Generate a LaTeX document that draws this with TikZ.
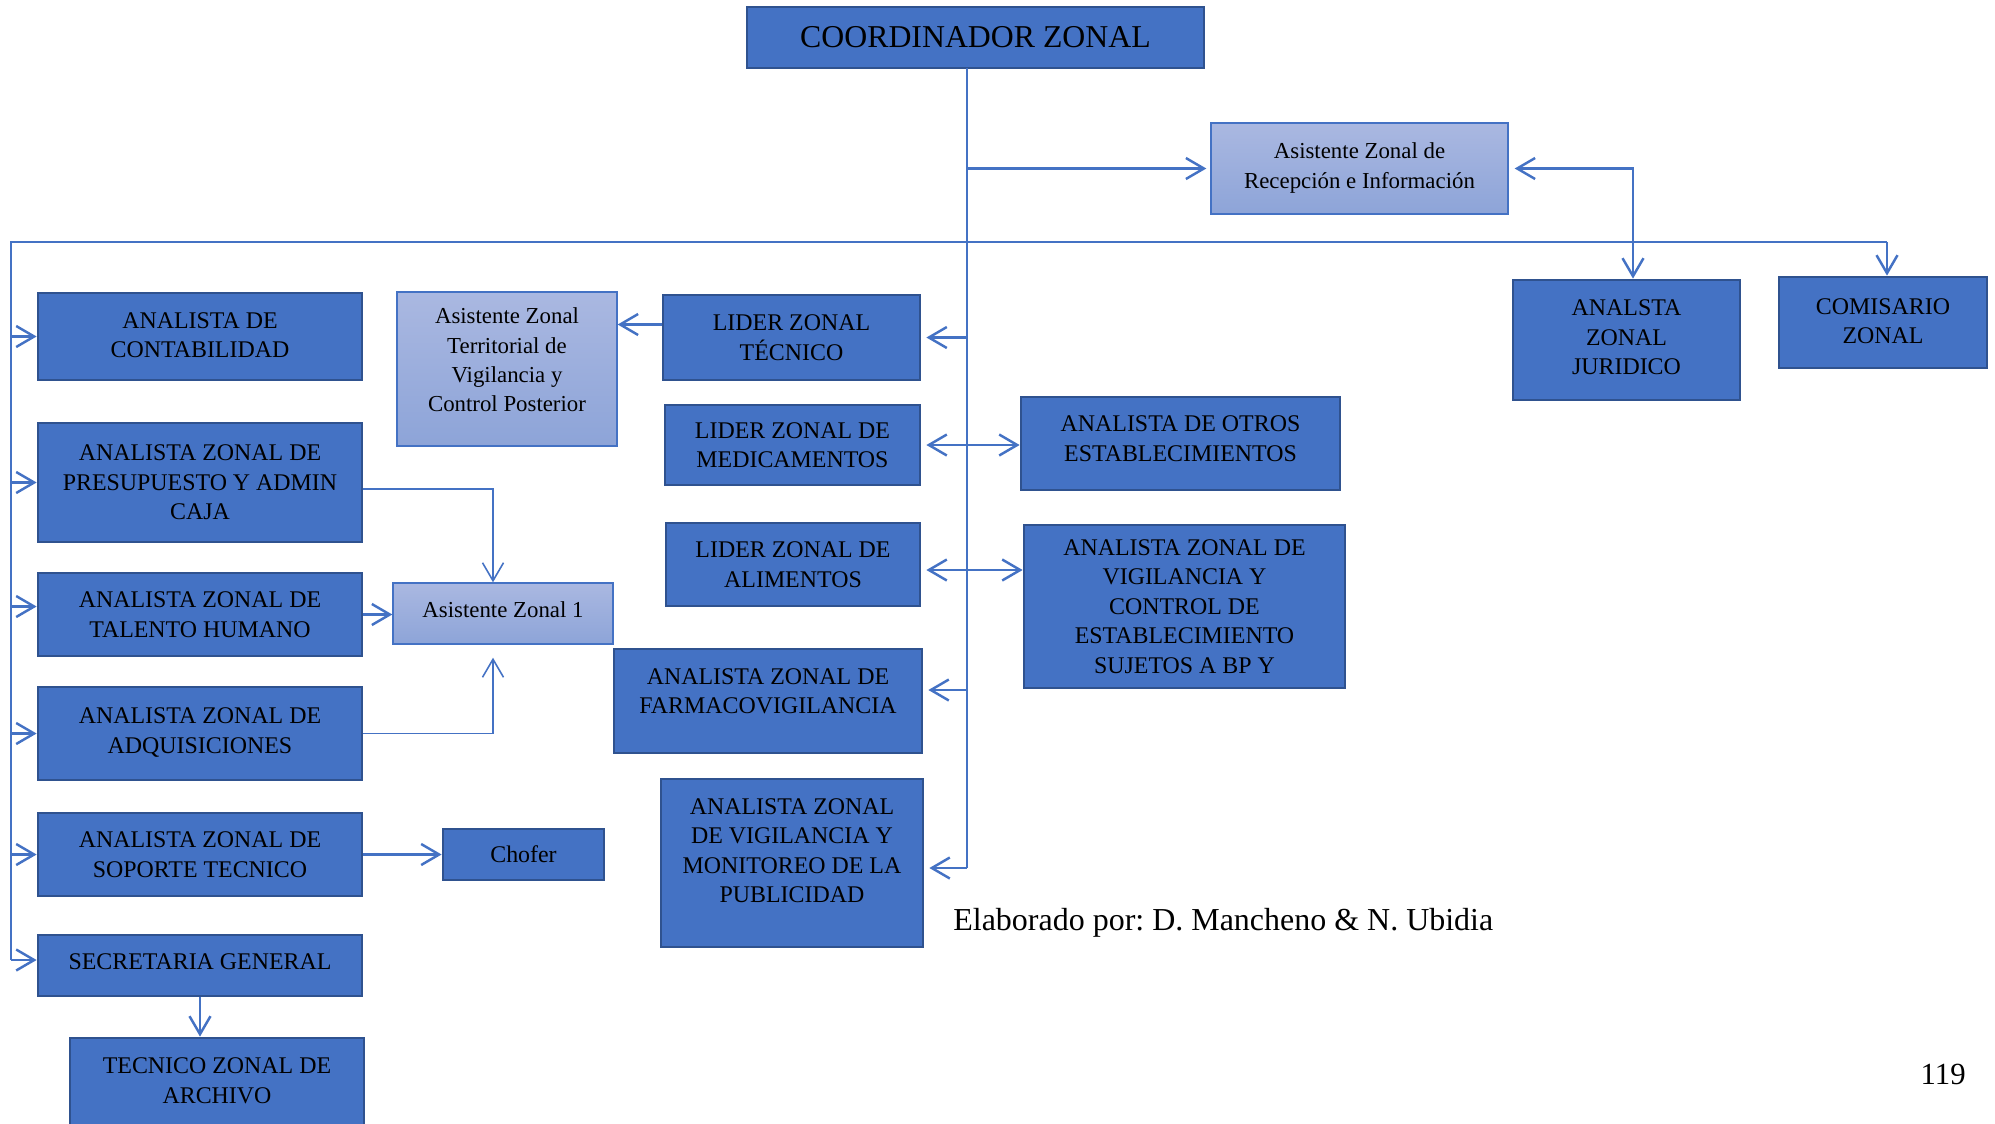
\documentclass[tikz,border=0pt]{standalone}
\usepackage{fontspec}
\setmainfont{Liberation Serif}
\usepackage{tikz}
\usetikzlibrary{arrows.meta,positioning,calc}
\definecolor{boxfill}{RGB}{68,114,196}
\definecolor{boxline}{RGB}{47,82,143}
\definecolor{linecol}{RGB}{68,114,196}
\definecolor{lighttop}{RGB}{170,184,225}
\definecolor{lightbot}{RGB}{141,164,216}
\frenchspacing

\begin{document}
\begin{tikzpicture}[x = 0.02cm, y = -0.02cm,
	box/.style = {draw = boxline, fill = boxfill, line width = 1.6pt, inner sep = 1pt, align = center, font = \fontsize{13.6}{16.8}\selectfont},
	lightbox/.style = {draw = linecol, line width = 0.8pt, top color = lighttop, bottom color = lightbot, inner sep = 1pt, align = center, font = \fontsize{13}{16.7}\selectfont},
	thinline/.style = {draw = linecol, line width = 0.85pt},
	arr/.style = {draw = linecol, line width = 1.4pt, -{Straight Barb[length = 3.6mm, width = 4.2mm]}},
	arrthin/.style = {draw = linecol, line width = 0.9pt, -{Straight Barb[length = 3.6mm, width = 4.2mm]}},
	arrboth/.style = {draw = linecol, line width = 1.4pt, {Straight Barb[length = 3.6mm, width = 4.2mm]}-{Straight Barb[length = 3.6mm, width = 4.2mm]}}]
		\useasboundingbox (0,0) rectangle (1995,1123);
		\node [box, minimum width = 9.14cm, minimum height = 1.22cm, font = \fontsize{18.1}{21}\selectfont](coord) at (975.5,37.5) {COORDINADOR ZONAL};
		\node [lightbox, minimum width = 5.94cm, minimum height = 1.82cm, text depth = 0.12cm](recep) at (1359.5,168.5) {Asistente Zonal de\\Recepción e Información};
		\node [box, minimum width = 4.54cm, minimum height = 2.4cm, text depth = 0.1cm](juridico) at (1626.5,340) {ANALSTA\\ZONAL\\JURIDICO};
		\node [box, minimum width = 4.16cm, minimum height = 1.82cm, text depth = 0.06cm](comisario) at (1883,322.5) {COMISARIO\\ZONAL};
		\node [box, minimum width = 6.48cm, minimum height = 1.74cm, text depth = 0.06cm](contab) at (200,336.5) {ANALISTA DE\\CONTABILIDAD};
		\node [box, minimum width = 6.48cm, minimum height = 2.38cm](presup) at (200,482.5) {ANALISTA ZONAL DE\\PRESUPUESTO Y ADMIN\\CAJA};
		\node [box, minimum width = 6.48cm, minimum height = 1.66cm](talento) at (200,614.5) {ANALISTA ZONAL DE\\TALENTO HUMANO};
		\node [box, minimum width = 6.48cm, minimum height = 1.86cm, text depth = 0.12cm](adqui) at (200,733.5) {ANALISTA ZONAL DE\\ADQUISICIONES};
		\node [box, minimum width = 6.48cm, minimum height = 1.66cm](soporte) at (200,854.5) {ANALISTA ZONAL DE\\SOPORTE TECNICO};
		\node [box, minimum width = 6.48cm, minimum height = 1.22cm, text depth = 0.14cm](secret) at (200,965.5) {SECRETARIA GENERAL};
		\node [box, minimum width = 5.88cm, minimum height = 1.84cm, text depth = 0.14cm](archivo) at (217,1084) {TECNICO ZONAL DE\\ARCHIVO};
		\node [lightbox, minimum width = 4.4cm, minimum height = 3.08cm, text depth = 0.36cm](territorial) at (507,369) {Asistente Zonal\\Territorial de\\Vigilancia y\\Control Posterior};
		\node [lightbox, minimum width = 4.4cm, minimum height = 1.22cm, text depth = 0.16cm](asist1) at (503,613.5) {Asistente Zonal 1};
		\node [box, minimum width = 3.22cm, minimum height = 1.02cm](chofer) at (523.5,854.5) {Chofer};
		\node [box, minimum width = 5.14cm, minimum height = 1.7cm](tecnico) at (791.5,337.5) {LIDER ZONAL\\TÉCNICO};
		\node [box, minimum width = 5.1cm, minimum height = 1.6cm](medic) at (792.5,445) {LIDER ZONAL DE\\MEDICAMENTOS};
		\node [box, minimum width = 5.08cm, minimum height = 1.66cm](alimentos) at (793,564.5) {LIDER ZONAL DE\\ALIMENTOS};
		\node [box, minimum width = 6.16cm, minimum height = 2.08cm, text depth = 0.4cm](farmaco) at (768,701) {ANALISTA ZONAL DE\\FARMACOVIGILANCIA};
		\node [box, minimum width = 5.24cm, minimum height = 3.36cm, text depth = 0.5cm](monitoreo) at (792,863) {ANALISTA ZONAL\\DE VIGILANCIA Y\\MONITOREO DE LA\\PUBLICIDAD};
		\node [box, minimum width = 6.38cm, minimum height = 1.86cm, text depth = 0.2cm](otros) at (1180.5,443.5) {ANALISTA DE OTROS\\ESTABLECIMIENTOS};
		\node [box, minimum width = 6.42cm, minimum height = 3.26cm](vigcontrol) at (1184.5,606.5) {ANALISTA ZONAL DE\\VIGILANCIA Y\\CONTROL DE\\ESTABLECIMIENTO\\SUJETOS A BP Y};
		\node [anchor = base west, inner sep = 0pt, font = \fontsize{18.2}{21}\selectfont](autores) at (953,930) {Elaborado por: D. Mancheno \& N. Ubidia};
		\node [anchor = base east, inner sep = 0pt, font = \fontsize{17.5}{21}\selectfont](pagina) at (1966,1084) {119};
		\coordinate (trunktop) at (967,68);
		\coordinate (trunkbot) at (967,868);
		\coordinate (busl) at (11,242);
		\coordinate (busr) at (1887,242);
		\coordinate (busbot) at (11,960);
		\draw [thinline] (trunktop) -- (trunkbot);
		\draw [thinline] (busbot) -- (busl) -- (busr);
		\draw [arr] (busr) -- (busr |- comisario.north);
		\draw [arr, shorten > = 0.08cm] (trunktop |- recep.west) -- (recep.west);
		\draw [arrboth, shorten < = 0.12cm] (recep.east) -| ([xshift = 0.13cm]juridico.north);
		\draw [arr] (busl |- contab.west) -- (contab.west);
		\draw [arr] (busl |- presup.west) -- (presup.west);
		\draw [arr] ([yshift = 0.16cm]talento.west -| busl) -- ([yshift = 0.16cm]talento.west);
		\draw [arr] (busl |- adqui.west) -- (adqui.west);
		\draw [arr] (busl |- soporte.west) -- (soporte.west);
		\draw [arr] (busbot) -- (busbot -| secret.west);
		\draw [arr] (secret.south) -- (secret.south |- archivo.north);
		\draw [arr] (talento.east) -- (talento.east -| asist1.west);
		\draw [arr] (soporte.east) -- (chofer.west);
		\draw [arrthin] ([yshift = -0.13cm]presup.east) -| ([xshift = -0.2cm]asist1.north);
		\draw [arrthin, shorten > = 0.26cm] (adqui.east) -| ([xshift = -0.2cm]asist1.south);
		\draw [arr] ([yshift = 0.26cm]tecnico.west) -- ([yshift = 0.26cm]tecnico.west -| territorial.east);
		\draw [arr, shorten > = 0.1cm] (trunktop |- tecnico.east) -- (tecnico.east);
		\draw [arrboth, shorten < = 0.1cm] (medic.east) -- (medic.east -| otros.west);
		\draw [arrboth, shorten < = 0.1cm] ([yshift = -0.11cm]alimentos.east) -- ([yshift = -0.11cm]alimentos.east -| vigcontrol.west);
		\draw [arr, shorten > = 0.1cm] ([yshift = 0.22cm]farmaco.east -| trunktop) -- ([yshift = 0.22cm]farmaco.east);
		\draw [arr, shorten > = 0.1cm] (trunkbot) -- (trunkbot -| monitoreo.east);
\end{tikzpicture}
\end{document}
